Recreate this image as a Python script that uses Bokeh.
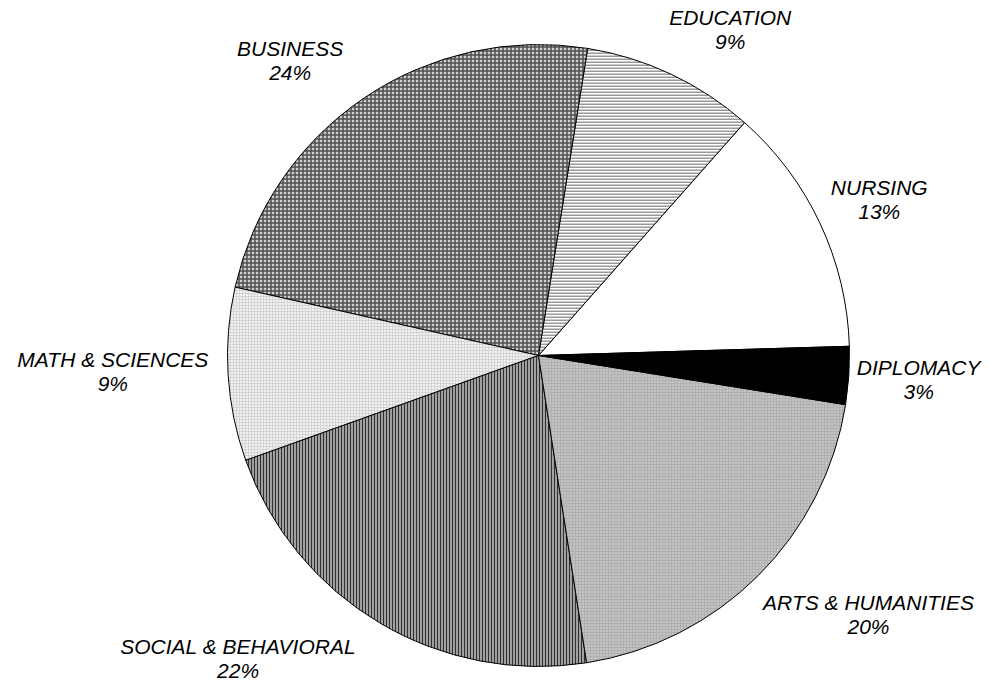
import math
from bokeh.plotting import figure
from bokeh.models import Range1d, ColumnDataSource
from bokeh.core.properties import value
from bokeh.embed import file_html
from bokeh.resources import INLINE

# ---------------- data ----------------
categories = ["NURSING", "EDUCATION", "BUSINESS", "MATH & SCIENCES",
              "SOCIAL & BEHAVIORAL", "ARTS & HUMANITIES", "DIPLOMACY"]
shares = [13, 9, 24, 9, 22, 20, 3]

# ---------------- styles ----------------
fills = ["#ffffff", "#ffffff", "#d0d0d0", "#f2f2f2", "#a0a0a0", "#c4c4c4", "#000000"]
hatch_patterns = [" ", "horizontal_line", "cross", "cross", "vertical_line", "cross", " "]
hatch_colors = ["#ffffff", "#999999", "#505050", "#d4d4d4", "#303030", "#b0b0b0", "#000000"]
hatch_weights = [1, 2, 1.5, 1, 1, 1, 1]
hatch_scales = [3, 3, 4, 3, 3, 3, 3]

# ---------------- layout ----------------
W, H = 984, 686
CX, CY = 538, 331          # pie centre (data units = pixels, y up)
R = 311
START_DEG = 1.7
FONT_PX = 21
LINE_GAP = 24
# label nudges in screen px (dx right, dy down)
label_nudge = [(-2, -17), (-9, -20), (-13, -16), (-5, -13), (-16, -3), (-5, 5), (-6, -6)]

# Arial/Liberation Sans advance widths (per em)
CHAR_W = {'A': .667, 'B': .667, 'C': .722, 'D': .722, 'E': .667, 'F': .611, 'G': .778,
          'H': .722, 'I': .278, 'J': .5, 'K': .667, 'L': .556, 'M': .833, 'N': .722,
          'O': .778, 'P': .667, 'Q': .778, 'R': .722, 'S': .667, 'T': .611, 'U': .722,
          'V': .667, 'W': .944, 'X': .667, 'Y': .667, 'Z': .611, ' ': .278, '&': .667,
          '%': .889}

def text_width(s):
    return sum(CHAR_W.get(c, .556) for c in s) * FONT_PX

total = float(sum(shares))
starts, ends = [], []
a = math.radians(START_DEG)
for v in shares:
    starts.append(a)
    a += 2 * math.pi * v / total
    ends.append(a)

p = figure(width=W, height=H, output_backend="svg", toolbar_location=None,
           x_range=Range1d(0, W), y_range=Range1d(0, H), min_border=0)
p.axis.visible = False
p.grid.visible = False
p.outline_line_color = None
p.background_fill_color = "white"
p.border_fill_color = "white"

for i in range(len(shares)):
    src = ColumnDataSource(dict(x=[CX], y=[CY], s=[starts[i]], e=[ends[i]]))
    kw = dict(fill_color=fills[i], line_color="black", line_width=1)
    if hatch_patterns[i].strip():
        kw.update(hatch_pattern=hatch_patterns[i], hatch_color=hatch_colors[i],
                  hatch_weight=hatch_weights[i], hatch_scale=hatch_scales[i])
    p.wedge(x="x", y="y", radius=R, start_angle="s", end_angle="e",
            direction="anticlock", source=src, **kw)

names_x, names_y, pct_x, pct_y, pct_txt = [], [], [], [], []
for i, (cat, v) in enumerate(zip(categories, shares)):
    mid = (starts[i] + ends[i]) / 2
    c, s = math.cos(mid), math.sin(mid)
    ax = CX + (R + 14) * c
    ay = CY + (R + 14) * s
    hw = text_width(cat) / 2
    if c > 0.25:
        lx = ax + hw
    elif c < -0.25:
        lx = ax - hw
    else:
        lx = ax
    ly = ay + 22 * s
    dx, dy = label_nudge[i]
    lx += dx
    ly -= dy
    names_x.append(lx)
    names_y.append(ly + 4)
    pct_x.append(lx)
    pct_y.append(ly + 4 - LINE_GAP)
    pct_txt.append(f"{v}%")

common = dict(text_font=value("Liberation Sans"), text_font_style="italic",
              text_font_size=f"{FONT_PX}px", text_color="black",
              text_align="center", text_baseline="alphabetic")
p.text(x=names_x, y=names_y, text=categories, **common)
p.text(x=pct_x, y=pct_y, text=pct_txt, **common)

open("out.html", "w").write(file_html(p, INLINE))
